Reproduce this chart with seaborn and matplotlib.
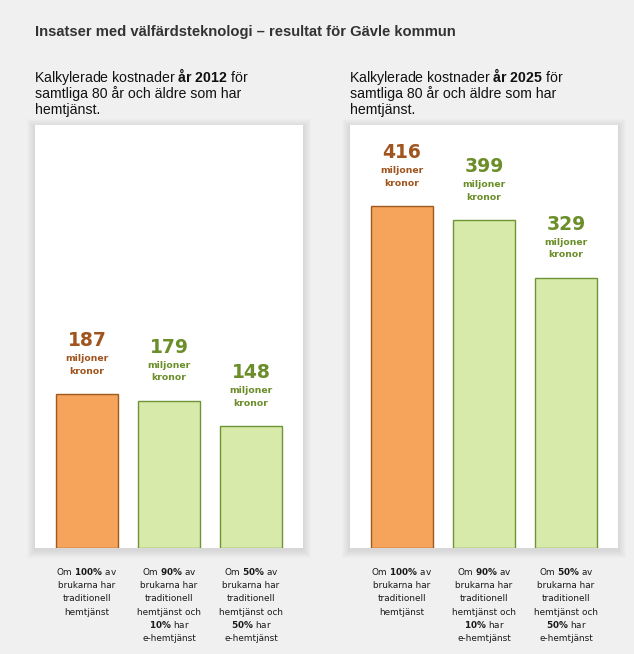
import numpy as np
import pandas as pd
import seaborn as sns
import matplotlib.pyplot as plt
from matplotlib.patches import Rectangle

title = "Insatser med välfärdsteknologi – resultat för Gävle kommun"
years = ["2012", "2025"]
scenarios = ["100% traditionell", "90% trad / 10% e", "50% trad / 50% e"]
values_2012 = [187, 179, 148]
values_2025 = [416, 399, 329]
unit_lines = ["miljoner", "kronor"]
subtitle_lines = ["Kalkylerade kostnader **år {year}** för",
                  "samtliga 80 år och äldre som har",
                  "hemtjänst."]
category_lines = [
    ["Om **100%** av", "brukarna har", "traditionell", "hemtjänst"],
    ["Om **90%** av", "brukarna har", "traditionell", "hemtjänst och", "**10%** har", "e-hemtjänst"],
    ["Om **50%** av", "brukarna har", "traditionell", "hemtjänst och", "**50%** har", "e-hemtjänst"],
]

W, H = 634, 654
bg = "#f0f0f0"
bar_colors = ["#f6a35c", "#d7eaa9", "#d7eaa9"]
edge_colors = ["#9c5a1e", "#6f9435", "#6f9435"]
text_colors = ["#a0551f", "#6b8e2a", "#6b8e2a"]

sns.set_theme(style="white")
plt.rcParams["font.family"] = ["DejaVu Sans"]
plt.rcParams["mathtext.fontset"] = "custom"
plt.rcParams["mathtext.rm"] = "Liberation Sans"
plt.rcParams["mathtext.bf"] = "Liberation Sans:bold"


def bold_markup(line):
    # turn **bold** parts into mathtext bold words, keeping normal spaces
    out = []
    for i, part in enumerate(line.split("**")):
        if i % 2 == 1:
            words = [r"$\mathbf{" + w.replace("%", r"\%") + "}$" for w in part.split(" ")]
            out.append(" ".join(words))
        else:
            out.append(part)
    return "".join(out)


fig = plt.figure(figsize=(W / 100, H / 100), dpi=100, facecolor=bg)


def fx(px):
    return px / W


def fy(py):
    return 1 - py / H


fig.text(fx(35), fy(36), title, fontsize=10.6, fontweight="bold", color="#333333",
         family="Liberation Sans", va="baseline")

panel_left = [35, 350]
panel_top, panel_bottom, panel_w = 125, 548, 268
ymax = (panel_bottom - panel_top) / 0.822
xlim = (-0.634, 2.634)

for p, (year, vals) in enumerate(zip(years, [values_2012, values_2025])):
    left = panel_left[p]
    for k, line in enumerate(subtitle_lines):
        s = bold_markup(line.format(year=year))
        nudge = -1 if "$" in s else 0
        fig.text(fx(left + nudge), fy(82 + k * 16), s,
                 fontsize=10.2, family="Liberation Sans", math_fontfamily="custom",
                 color="#111111", ha="left", va="baseline")

    # soft shadow behind the white panel
    for s in range(1, 9):
        fig.patches.append(Rectangle((fx(left - s), fy(panel_bottom + s + 2)),
                                     fx(panel_w + 2 * s), (panel_bottom - panel_top + 2 * s) / H,
                                     transform=fig.transFigure, facecolor="#000000",
                                     alpha=0.012, edgecolor="none", zorder=-5))

    ax = fig.add_axes([fx(left), fy(panel_bottom), fx(panel_w), (panel_bottom - panel_top) / H])
    ax.set_zorder(1)
    ax.set_facecolor("white")
    df = pd.DataFrame({"scenario": scenarios, "value": vals})
    sns.barplot(data=df, x="scenario", y="value", hue="scenario", palette=bar_colors,
                width=0.756, legend=False, ax=ax, saturation=1)
    for i, bar in enumerate(ax.patches):
        bar.set_edgecolor(edge_colors[i])
        bar.set_linewidth(1.0)
    ax.set_xlim(*xlim)
    ax.set_ylim(0, ymax)
    ax.set_xticks([])
    ax.set_yticks([])
    ax.set_xlabel("")
    ax.set_ylabel("")
    for sp in ax.spines.values():
        sp.set_visible(False)

    for i, v in enumerate(vals):
        ax.annotate(str(v), (i, v), xytext=(0, 48 * 0.72), textcoords="offset points",
                    ha="center", va="baseline", fontsize=13.5, fontweight="bold",
                    color=text_colors[i])
        for j, u in enumerate(unit_lines):
            ax.annotate(u, (i, v), xytext=(0, (33 - 12.5 * j) * 0.72), textcoords="offset points",
                        ha="center", va="baseline", fontsize=6.7, fontweight="bold",
                        color=text_colors[i])

        cx = left + (i - xlim[0]) / (xlim[1] - xlim[0]) * panel_w
        for k, line in enumerate(category_lines[i]):
            fig.text(fx(cx), fy(575 + k * 13.2), bold_markup(line), fontsize=6.4,
                     family="DejaVu Sans", math_fontfamily="dejavusans",
                     color="#1a1a1a", ha="center", va="baseline")

fig.savefig("out.png", dpi=100, facecolor=bg)
